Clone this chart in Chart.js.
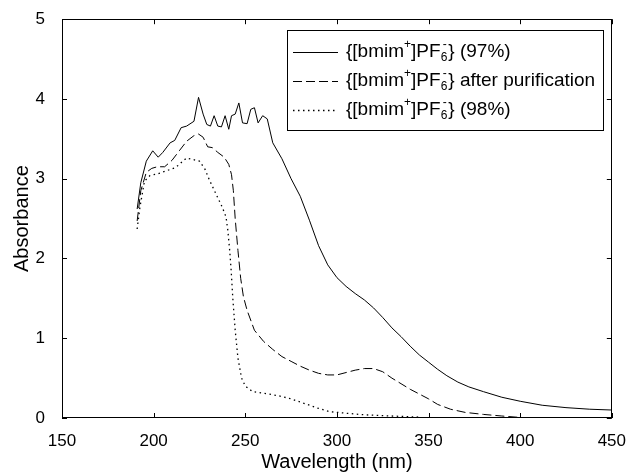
<!DOCTYPE html>
<html>
<head>
<meta charset="utf-8">
<script src="https://cdn.jsdelivr.net/npm/chart.js@4.4.1/dist/chart.umd.min.js"></script>
<style>
  html, body { margin: 0; padding: 0; background: #fff; }
</style>
</head>
<body>
<canvas id="absChart" width="631" height="474"></canvas>
<script>
// wavelength (nm) / absorbance
const wl97 = [191, 193, 196, 199.5, 202.5, 205, 209, 211.5, 215, 218, 222, 224.5, 227, 229, 231, 233, 235, 237, 239, 241,
  242.5, 244.5, 246.5, 248.5, 251, 253, 255, 257, 259.5, 262, 265, 270, 275, 280, 285, 290, 295, 300, 305, 310,
  315, 320, 325, 330, 335, 340, 345, 350, 355, 360, 366, 372, 380, 390, 400, 412, 425, 438, 450];
const abs97 = [2.62, 2.95, 3.22, 3.35, 3.27, 3.33, 3.45, 3.48, 3.64, 3.66, 3.72, 4.02, 3.81, 3.68, 3.66, 3.79, 3.66, 3.65, 3.79, 3.62,
  3.79, 3.81, 3.95, 3.70, 3.69, 3.87, 3.89, 3.70, 3.79, 3.75, 3.45, 3.25, 3.0, 2.78, 2.48, 2.16, 1.92, 1.76, 1.65, 1.56,
  1.48, 1.38, 1.26, 1.13, 1.02, 0.90, 0.79, 0.70, 0.61, 0.53, 0.45, 0.39, 0.33, 0.26, 0.21, 0.16, 0.13, 0.11, 0.10];

const wlPur = [191, 193, 196, 199, 202, 206, 210, 214, 218, 222, 224.5, 227, 229.5, 232, 235, 238.5, 241, 242.5, 243.5, 244.5,
  246, 247.5, 249, 251, 255, 260, 265, 270, 275, 280, 285, 290, 295, 300, 305, 310, 315, 320, 325, 330,
  335, 340, 345, 350, 355, 362, 370, 380, 390, 401];
const absPur = [2.47, 2.85, 3.08, 3.13, 3.15, 3.15, 3.23, 3.35, 3.47, 3.54, 3.56, 3.52, 3.40, 3.39, 3.33, 3.27, 3.18, 3.05, 2.85, 2.5,
  2.10, 1.75, 1.52, 1.35, 1.10, 0.96, 0.86, 0.77, 0.71, 0.65, 0.60, 0.56, 0.54, 0.54, 0.57, 0.60, 0.62, 0.62, 0.58, 0.50,
  0.43, 0.36, 0.30, 0.24, 0.17, 0.11, 0.07, 0.045, 0.025, 0.005];

const wl98 = [191, 192.5, 195, 198, 202, 207, 212, 216, 218, 221.5, 225, 228, 230.5, 234, 237.5, 239.5, 240.5, 241.5, 242.3, 243.2,
  244.5, 246, 248, 250, 254, 260, 268, 275, 280, 285, 290, 296, 305, 315, 325, 335, 346];
const abs98 = [2.37, 2.64, 2.97, 3.04, 3.06, 3.10, 3.14, 3.22, 3.26, 3.24, 3.22, 3.12, 2.98, 2.81, 2.64, 2.52, 2.35, 2.1, 1.85, 1.50,
  1.10, 0.75, 0.50, 0.40, 0.33, 0.31, 0.28, 0.24, 0.20, 0.16, 0.12, 0.08, 0.06, 0.04, 0.03, 0.02, 0.01];

const xTicks = [150, 200, 250, 300, 350, 400, 450];
const yTicks = [0, 1, 2, 3, 4, 5];
const legendSuffix = ['(97%)', 'after purification', '(98%)'];
const dashes = [[], [9, 4], [1.5, 3.5]];
const widths = [1, 1, 1.3];

const FONT = '"Liberation Sans", Arial, sans-serif';

function pts(xs, ys) {
  return xs.map((x, i) => ({ x: x, y: ys[i] }));
}

// box + inward ticks on all four sides, and the legend
const framePlugin = {
  id: "frame",
  afterDraw(chart) {
    const { ctx, chartArea: a, scales } = chart;
    ctx.save();
    ctx.strokeStyle = "#000";
    ctx.lineWidth = 1;
    ctx.strokeRect(Math.round(a.left) + 0.5, Math.round(a.top) + 0.5,
      Math.round(a.right - a.left) - 1, Math.round(a.bottom - a.top) - 1);
    const tl = 5;
    ctx.beginPath();
    xTicks.forEach(v => {
      const px = Math.round(scales.x.getPixelForValue(v)) + 0.5;
      ctx.moveTo(px, a.bottom); ctx.lineTo(px, a.bottom - tl);
      ctx.moveTo(px, a.top); ctx.lineTo(px, a.top + tl);
    });
    yTicks.forEach(v => {
      const py = Math.round(scales.y.getPixelForValue(v)) + 0.5;
      ctx.moveTo(a.left, py); ctx.lineTo(a.left + tl, py);
      ctx.moveTo(a.right, py); ctx.lineTo(a.right - tl, py);
    });
    ctx.stroke();

    // legend
    const bx = 287.5, by = 30.5, bw = 316, bh = 100;
    ctx.fillStyle = "#fff";
    ctx.fillRect(bx, by, bw, bh);
    ctx.strokeRect(bx, by, bw, bh);
    const rows = [52, 81, 110];
    rows.forEach((ry, i) => {
      ctx.beginPath();
      ctx.setLineDash(dashes[i]);
      ctx.lineWidth = widths[i];
      ctx.moveTo(293, ry + 0.5);
      ctx.lineTo(338, ry + 0.5);
      ctx.stroke();
      ctx.setLineDash([]);
      ctx.lineWidth = 1;
      drawLabel(ctx, 346, ry, legendSuffix[i]);
    });
    ctx.restore();
  }
};

function drawLabel(ctx, x, y, suffix) {
  const big = "19px " + FONT, small = "12px " + FONT;
  ctx.fillStyle = "#000";
  ctx.textBaseline = "middle";
  ctx.textAlign = "left";
  ctx.font = big;
  ctx.fillText("{[bmim", x, y);
  x += ctx.measureText("{[bmim").width;
  ctx.font = small;
  ctx.fillText("+", x, y - 7);
  x += ctx.measureText("+").width;
  ctx.font = big;
  ctx.fillText("]PF", x, y);
  x += ctx.measureText("]PF").width;
  ctx.font = small;
  ctx.fillText("6", x, y + 6);
  ctx.fillText("-", x + 2, y - 7);
  x += ctx.measureText("6").width + 1;
  ctx.font = big;
  ctx.fillText("} " + suffix, x, y);
}

const ctx = document.getElementById("absChart").getContext("2d");
const absChart = new Chart(ctx, {
  type: "scatter",
  data: {
    datasets: [
      { label: "{[bmim+]PF6-} (97%)", data: pts(wl97, abs97), borderDash: dashes[0], borderWidth: widths[0] },
      { label: "{[bmim+]PF6-} after purification", data: pts(wlPur, absPur), borderDash: dashes[1], borderWidth: widths[1] },
      { label: "{[bmim+]PF6-} (98%)", data: pts(wl98, abs98), borderDash: dashes[2], borderWidth: widths[2] },
    ].map(d => Object.assign(d, {
      showLine: true,
      borderColor: "#000",
      pointRadius: 0,
      tension: 0,
      fill: false,
    })),
  },
  options: {
    responsive: false,
    animation: false,
    devicePixelRatio: 1,
    layout: { padding: { left: 0, right: 18, top: 18, bottom: 0 } },
    plugins: { legend: { display: false }, tooltip: { enabled: false } },
    scales: {
      x: {
        type: "linear",
        min: 150, max: 450,
        grid: { display: false },
        border: { display: false },
        afterFit: s => { s.height = 56; },
        afterBuildTicks: s => { s.ticks = xTicks.map(v => ({ value: v })); },
        ticks: { color: "#000", font: { family: FONT, size: 17 }, padding: 5, maxRotation: 0 },
        title: { display: true, text: "Wavelength (nm)", color: "#000", font: { family: FONT, size: 20 }, padding: { top: 0, bottom: 0 } },
      },
      y: {
        type: "linear",
        min: 0, max: 5,
        grid: { display: false },
        border: { display: false },
        afterFit: s => { s.width = 62; },
        afterBuildTicks: s => { s.ticks = yTicks.map(v => ({ value: v })); },
        ticks: { color: "#000", font: { family: FONT, size: 17 }, padding: 9 },
        title: { display: true, text: "Absorbance", color: "#000", font: { family: FONT, size: 20 }, padding: { top: 10, bottom: 0 } },
      },
    },
  },
  plugins: [framePlugin],
});
</script>
</body>
</html>
